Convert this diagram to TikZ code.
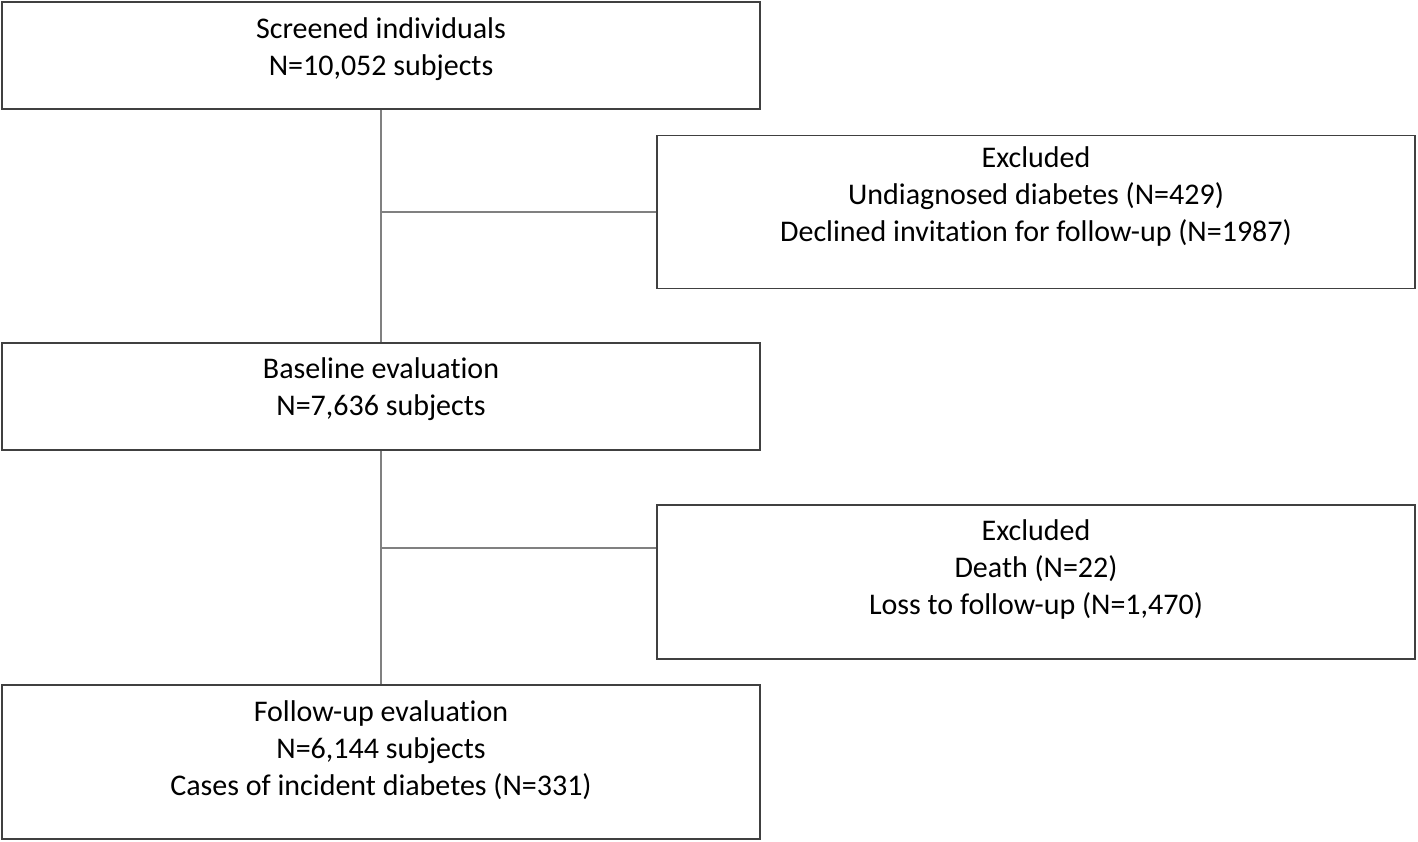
\documentclass[tikz,border=0pt]{standalone}
\usepackage{fontspec}
\setmainfont{Carlito}[Ligatures={NoCommon}]
\begin{document}
\begin{tikzpicture}[x=1pt,y=1pt,
  box/.style={draw=black!75, line width=1.6pt, rectangle, inner sep=0pt},
  txt/.style={anchor=north, inner sep=0pt, align=center, font=\fontsize{30}{37}\selectfont},
  conn/.style={draw=black!50, line width=2pt}]
\useasboundingbox (0,0) rectangle (1418,-842);
% boxes
\node[box, minimum width=758, minimum height=107] (b1) at (381,-55.5) {};
\node[box, minimum width=758, minimum height=153] (b2) at (1036,-212) {};
\node[box, minimum width=758, minimum height=107] (b3) at (381,-396.5) {};
\node[box, minimum width=758, minimum height=154] (b4) at (1036,-582) {};
\node[box, minimum width=758, minimum height=154] (b5) at (381,-762) {};
% texts
\node[txt] (t1) at ([yshift=-16]b1.north) {Screened individuals\\N=10,052 subjects};
\node[txt] (t2) at ([yshift=-12]b2.north) {Excluded\\Undiagnosed diabetes (N=429)\\Declined invitation for follow-up (N=1987)};
\node[txt] (t3) at ([yshift=-15]b3.north) {Baseline evaluation\\N=7,636 subjects};
\node[txt] (t4) at ([yshift=-15]b4.north) {Excluded\\Death (N=22)\\Loss to follow-up (N=1,470)};
\node[txt] (t5) at ([yshift=-16]b5.north) {Follow-up evaluation\\N=6,144 subjects\\Cases of incident diabetes (N=331)};
% connectors
\coordinate (j1) at (381,-212);
\coordinate (j2) at (381,-548);
\draw[conn] (b1.south) -- (b3.north);
\draw[conn] (j1) -- (j1 -| b2.west);
\draw[conn] (b3.south) -- (b5.north);
\draw[conn] (j2) -- (j2 -| b4.west);
\end{tikzpicture}
\end{document}
